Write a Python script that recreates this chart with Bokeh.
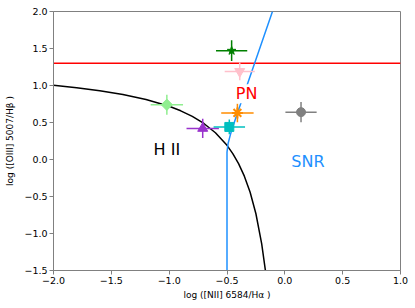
import math
from bokeh.plotting import figure
from bokeh.models import Label, Range1d, FixedTicker
from bokeh.embed import file_html
from bokeh.resources import INLINE

# data points (log [NII]/Ha, log [OIII]/Hb) with errors
names = ["star", "pink", "lightgreen", "orange", "grey", "purple", "cyan"]
px = [-0.46, -0.39, -1.02, -0.41, 0.14, -0.71, -0.48]
py = [1.47, 1.19, 0.74, 0.63, 0.64, 0.42, 0.44]
pxerr = [0.135, 0.13, 0.14, 0.14, 0.135, 0.14, 0.136]
pyerr = [0.14, 0.12, 0.135, 0.125, 0.136, 0.13, 0.10]
colors = ["green", "pink", "lightgreen", "darkorange", "grey", "darkorchid", "#00BFBF"]
markers = ["star", "inverted_triangle", "square", "asterisk", "circle", "triangle", "square"]
msizes = [9, 10, 8, 11, 9, 10, 9]
angles = [0, 0, math.pi / 4, 0, 0, 0, 0]

# Kauffmann-type demarcation curve
curve_x = [-2.0, -1.8, -1.6, -1.4, -1.2, -1.0, -0.9, -0.8, -0.7, -0.6, -0.5,
           -0.45, -0.4, -0.35, -0.3, -0.25, -0.2, -0.168]
curve_y = [1.002, 0.970, 0.930, 0.879, 0.812, 0.719, 0.658, 0.582, 0.487, 0.362,
           0.191, 0.08, -0.056, -0.225, -0.443, -0.733, -1.14, -1.498]

# blue PN/SNR boundary
blue_x = [-0.5, -0.5, -0.49, -0.47, -0.45, -0.42, -0.107]
blue_y = [-1.5, 0.1, 0.22, 0.34, 0.44, 0.58, 2.0]

# red horizontal line
red_y = 1.3
red_x = [-2.0, 1.0]

x_ticks = [-2.0, -1.5, -1.0, -0.5, 0.0, 0.5, 1.0]
x_tick_labels = ["\u22122.0", "\u22121.5", "\u22121.0", "\u22120.5", "0.0", "0.5", "1.0"]
y_ticks = [-1.5, -1.0, -0.5, 0.0, 0.5, 1.0, 1.5, 2.0]
y_tick_labels = ["\u22121.5", "\u22121.0", "\u22120.5", "0.0", "0.5", "1.0", "1.5", "2.0"]

region_labels = ["PN", "H II", "SNR"]
region_x = [-0.33, -1.02, 0.2]
region_y = [0.887, 0.137, -0.026]
region_colors = ["red", "black", "dodgerblue"]

FONT = "DejaVu Sans"
SPINE = "#808080"

p = figure(width=415, height=308, output_backend="svg", toolbar_location=None,
           x_range=Range1d(-2.0, 1.0), y_range=Range1d(-1.5, 2.0),
           min_border_left=53, min_border_right=15, min_border_top=11, min_border_bottom=38)
p.grid.visible = False
p.outline_line_color = SPINE
p.outline_line_width = 1
p.background_fill_color = "white"
p.border_fill_color = "white"

for ax in (p.xaxis[0], p.yaxis[0]):
    ax.axis_line_color = SPINE
    ax.major_tick_line_color = SPINE
    ax.minor_tick_line_color = None
    ax.major_tick_in = 0
    ax.major_tick_out = 4
    ax.major_label_text_font = FONT
    ax.major_label_text_font_size = "9.5px"
    ax.major_label_text_color = "black"
    ax.axis_label_text_font = FONT
    ax.axis_label_text_font_size = "9px"
    ax.axis_label_text_font_style = "normal"
    ax.axis_label_text_color = "black"
    ax.major_label_standoff = 2

p.xaxis[0].ticker = FixedTicker(ticks=x_ticks)
p.xaxis[0].major_label_overrides = {t: l for t, l in zip(x_ticks, x_tick_labels)}
p.yaxis[0].ticker = FixedTicker(ticks=y_ticks)
p.yaxis[0].major_label_overrides = {t: l for t, l in zip(y_ticks, y_tick_labels)}
p.xaxis[0].axis_label = "log ([NII] 6584/H\u03b1 )"
p.yaxis[0].axis_label = "log ([OIII] 5007/H\u03b2 )"
p.xaxis[0].axis_label_standoff = 3
p.yaxis[0].axis_label_standoff = 6

# lines
p.line(red_x, [red_y, red_y], line_color="red", line_width=1.5)
p.line(curve_x, curve_y, line_color="black", line_width=1.5)
p.line(blue_x, blue_y, line_color="dodgerblue", line_width=1.5)

# error bars and markers
for i in range(len(names)):
    x, y, ex, ey, c = px[i], py[i], pxerr[i], pyerr[i], colors[i]
    p.segment(x0=[x - ex], y0=[y], x1=[x + ex], y1=[y], line_color=c, line_width=1.5)
    p.segment(x0=[x], y0=[y - ey], x1=[x], y1=[y + ey], line_color=c, line_width=1.5)
    if markers[i] == "asterisk":
        p.scatter([x], [y], marker="asterisk", size=msizes[i], line_color=c, line_width=2)
    else:
        p.scatter([x], [y], marker=markers[i], size=msizes[i], angle=angles[i],
                  fill_color=c, line_color=c)

for t, x, y, c in zip(region_labels, region_x, region_y, region_colors):
    lab = Label(x=x, y=y, text=t, text_color=c, text_font=FONT, text_font_size="16px",
                text_align="center", text_baseline="middle")
    if t == "PN":
        lab.background_fill_color = "white"
    p.add_layout(lab)

open("out.html", "w").write(file_html(p, INLINE))
